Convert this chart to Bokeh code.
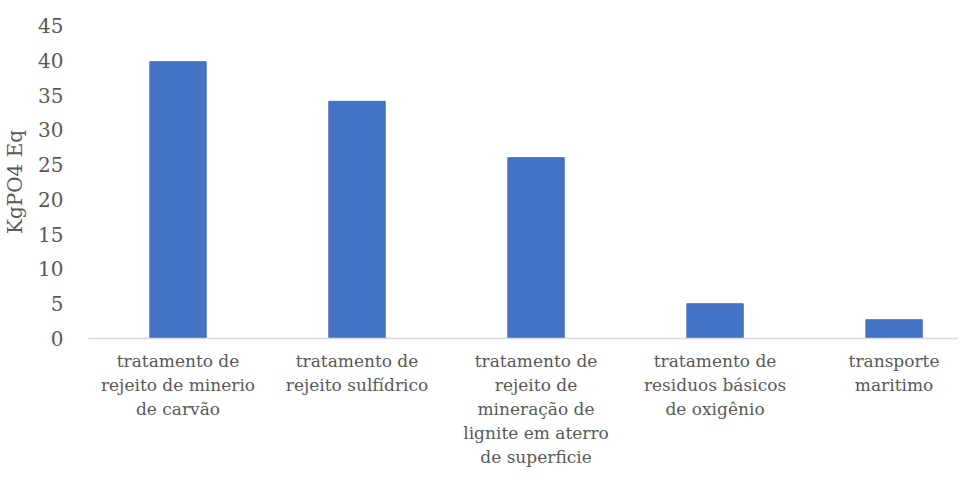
from bokeh.plotting import figure
from bokeh.models import Range1d, FixedTicker, ColumnDataSource
from bokeh.embed import file_html
from bokeh.resources import INLINE

categories = [
    "tratamento de\nrejeito de minerio\nde carvão",
    "tratamento de\nrejeito sulfídrico",
    "tratamento de\nrejeito de\nmineração de\nlignite em aterro\nde superficie",
    "tratamento de\nresiduos básicos\nde oxigênio",
    "transporte\nmaritimo",
]
values = [39.8, 34.1, 26.0, 5.0, 2.7]
y_ticks = [0, 5, 10, 15, 20, 25, 30, 35, 40, 45]

idx = list(range(len(categories)))
src = ColumnDataSource(dict(x=idx, top=values))

FONT = "DejaVu Serif"
GRAY = "#595959"

p = figure(width=958, height=469, output_backend="svg", toolbar_location=None,
           x_range=Range1d(-0.5, 4.36), y_range=Range1d(0, 45),
           min_border_left=80, min_border_right=0, min_border_top=25,
           min_border_bottom=130)
p.outline_line_color = None
p.xgrid.grid_line_color = None
p.ygrid.grid_line_color = None
p.background_fill_color = "white"

p.vbar(x="x", top="top", width=0.315, source=src, fill_color="#4472C4",
       line_color="#4472C4")

xa = p.xaxis[0]
xa.ticker = FixedTicker(ticks=idx)
xa.major_label_overrides = {i: c for i, c in zip(idx, categories)}
xa.axis_line_color = "#d9d9d9"
xa.axis_line_width = 1.5
xa.major_tick_line_color = None
xa.minor_tick_line_color = None
xa.major_label_text_font = FONT
xa.major_label_text_font_size = "17px"
xa.major_label_text_color = GRAY
xa.major_label_standoff = 6

ya = p.yaxis[0]
ya.ticker = FixedTicker(ticks=y_ticks)
ya.axis_line_color = None
ya.major_tick_line_color = None
ya.minor_tick_line_color = None
ya.major_label_text_font = FONT
ya.major_label_text_font_size = "20px"
ya.major_label_text_color = GRAY
ya.major_label_standoff = 19
ya.axis_label = "KgPO4 Eq"
ya.axis_label_text_font = FONT
ya.axis_label_text_font_size = "20px"
ya.axis_label_text_font_style = "normal"
ya.axis_label_text_color = GRAY
ya.axis_label_standoff = 8

open("out.html", "w").write(file_html(p, INLINE))
